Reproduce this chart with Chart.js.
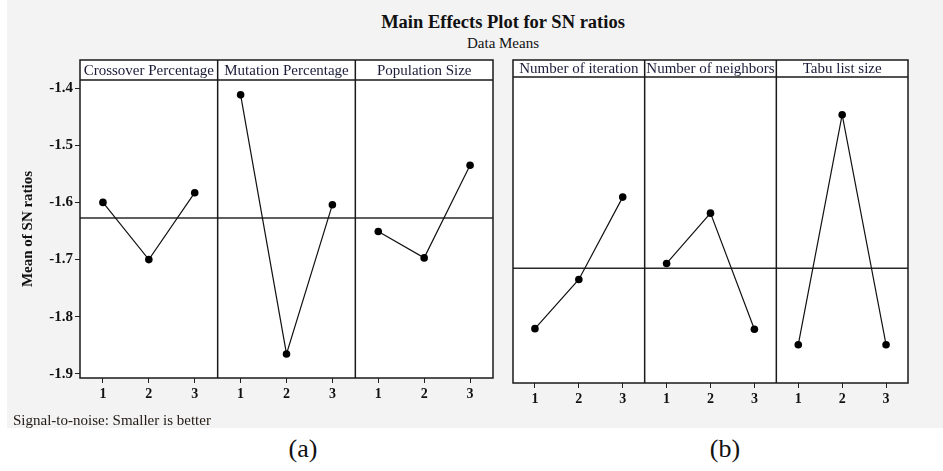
<!DOCTYPE html>
<html>
<head>
<meta charset="utf-8">
<script src="https://cdn.jsdelivr.net/npm/chart.js@4.4.1/dist/chart.umd.min.js"></script>
<style>
  body { margin: 0; background: #fff; }
  #wrap { position: relative; width: 943px; height: 471px; overflow: hidden; font-family: "Liberation Serif", serif; }
  #panel { position: absolute; left: 7px; top: 0; width: 936px; height: 428px; background: #f3f3f3; }
  .txt { position: absolute; white-space: nowrap; color: #111; }
  #title { left: 303px; width: 400px; top: 12px; text-align: center; font-weight: bold; font-size: 18.5px; }
  #sub { left: 303px; width: 400px; top: 35px; text-align: center; font-size: 15px; }
  #note { left: 13px; top: 412px; font-size: 15px; color: #221a14; }
  #capA { left: 263px; width: 80px; text-align: center; top: 434px; font-size: 26px; }
  #capB { left: 685px; width: 80px; text-align: center; top: 434px; font-size: 26px; }
  canvas { position: absolute; }
  #chartA { left: 7px; top: 50px; }
  #chartB { left: 505px; top: 50px; }
</style>
</head>
<body>
<div id="wrap">
  <div id="panel"></div>
  <div class="txt" id="title">Main Effects Plot for SN ratios</div>
  <div class="txt" id="sub">Data Means</div>
  <canvas id="chartA" width="493" height="365"></canvas>
  <canvas id="chartB" width="430" height="365"></canvas>
  <div class="txt" id="note">Signal-to-noise: Smaller is better</div>
  <div class="txt" id="capA">(a)</div>
  <div class="txt" id="capB">(b)</div>
</div>
<script>
// Factor levels shown under each panel
const levels = [1, 2, 3];

// (a) genetic algorithm factors
const factorsA = ['Crossover Percentage', 'Mutation Percentage', 'Population Size'];
const crossover = [-1.600, -1.700, -1.583];
const mutation = [-1.412, -1.865, -1.604];
const population = [-1.651, -1.697, -1.535];
const yTicksA = [-1.9, -1.8, -1.7, -1.6, -1.5, -1.4];

// (b) tabu search factors
const factorsB = ['Number of iteration', 'Number of neighbors', 'Tabu list size'];
const iteration = [-1.820, -1.734, -1.590];
const neighbors = [-1.706, -1.618, -1.821];
const tabu = [-1.848, -1.446, -1.848];

const FONT = '"Liberation Serif", serif';

// white plot area + header boxes, frame and panel dividers
const framePlugin = {
    id: 'frame',
    beforeDraw(chart, args, opts) {
        const { ctx, chartArea: a } = chart;
        ctx.save();
        ctx.fillStyle = '#fff';
        ctx.fillRect(a.left, a.top - opts.header, a.width, a.height + opts.header);
        ctx.restore();
    },
    afterDraw(chart, args, opts) {
        const { ctx, chartArea: a, scales: { x } } = chart;
        const top = a.top - opts.header;
        ctx.save();
        ctx.strokeStyle = '#1a1a1a';
        ctx.lineWidth = 1.5;
        ctx.strokeRect(a.left, top, a.width, a.height + opts.header);
        ctx.beginPath();
        ctx.moveTo(a.left, a.top);
        ctx.lineTo(a.right, a.top);
        opts.names.forEach((name, i) => {
            if (i > 0) {
                const px = x.getPixelForValue(i * 3 + 0.5);
                ctx.moveTo(px, top);
                ctx.lineTo(px, a.bottom);
            }
        });
        ctx.stroke();
        ctx.fillStyle = '#1c1c3a';
        ctx.font = '15px ' + FONT;
        ctx.textAlign = 'center';
        ctx.textBaseline = 'middle';
        opts.names.forEach((name, i) => {
            const cx = x.getPixelForValue(i * 3 + 2);
            ctx.fillText(name, cx, top + opts.header / 2 + 1);
        });
        ctx.restore();
    }
};

function makeChart(id, names, seriesList, cfg) {
    const all = seriesList.flat();
    const grandMean = all.reduce((s, v) => s + v, 0) / all.length;
    const xMax = names.length * 3 + 0.5;

    const datasets = seriesList.map((series, i) => ({
        data: series.map((v, j) => ({ x: i * 3 + levels[j], y: v })),
        borderColor: '#111',
        borderWidth: 1.2,
        pointRadius: 3.8,
        pointBackgroundColor: '#000',
        pointBorderWidth: 0,
        tension: 0
    }));
    datasets.push({
        data: [{ x: 0.5, y: grandMean }, { x: xMax, y: grandMean }],
        borderColor: '#2a2a2a',
        borderWidth: 1.5,
        pointRadius: 0
    });

    const xTicks = [];
    names.forEach((n, i) => levels.forEach(l => xTicks.push(i * 3 + l)));

    return new Chart(document.getElementById(id), {
        type: 'line',
        data: { datasets },
        plugins: [framePlugin],
        options: {
            responsive: false,
            animation: false,
            layout: { padding: cfg.padding },
            scales: {
                x: {
                    type: 'linear',
                    min: 0.5,
                    max: xMax,
                    afterBuildTicks: s => { s.ticks = xTicks.map(v => ({ value: v })); },
                    afterFit: s => { s.height = cfg.xHeight; },
                    border: { display: false },
                    grid: { drawOnChartArea: false, drawTicks: true, tickLength: 5, color: '#222' },
                    ticks: {
                        padding: 3,
                        color: '#111',
                        font: { family: FONT, size: 14, weight: 'bold' },
                        callback: v => String(((v - 1) % 3) + 1)
                    }
                },
                y: {
                    display: cfg.showY,
                    min: cfg.yMin,
                    max: cfg.yMax,
                    afterBuildTicks: s => { if (cfg.yTicks) s.ticks = cfg.yTicks.map(v => ({ value: v })); },
                    afterFit: s => { s.width = cfg.yWidth; },
                    border: { display: false },
                    grid: { drawOnChartArea: false, drawTicks: true, tickLength: 5, color: '#222' },
                    ticks: {
                        padding: 2,
                        color: '#111',
                        font: { family: FONT, size: 15, weight: 'bold' },
                        callback: v => v.toFixed(1)
                    },
                    title: {
                        display: true,
                        text: 'Mean of SN ratios',
                        color: '#111',
                        font: { family: FONT, size: 15, weight: 'bold' },
                        padding: { top: 12, bottom: 0 }
                    }
                }
            },
            plugins: {
                legend: { display: false },
                tooltip: { enabled: false },
                frame: { names, header: cfg.header }
            }
        }
    });
}

makeChart('chartA', factorsA, [crossover, mutation, population], {
    padding: { left: 0, right: 7, top: 30, bottom: 0 },
    xHeight: 37, yWidth: 73, showY: true,
    yMin: -1.907, yMax: -1.386, yTicks: yTicksA, header: 20
});

makeChart('chartB', factorsB, [iteration, neighbors, tabu], {
    padding: { left: 8, right: 27, top: 27, bottom: 0 },
    xHeight: 32, yWidth: 0, showY: false,
    yMin: -1.915, yMax: -1.380, yTicks: null, header: 17
});
</script>
</body>
</html>
